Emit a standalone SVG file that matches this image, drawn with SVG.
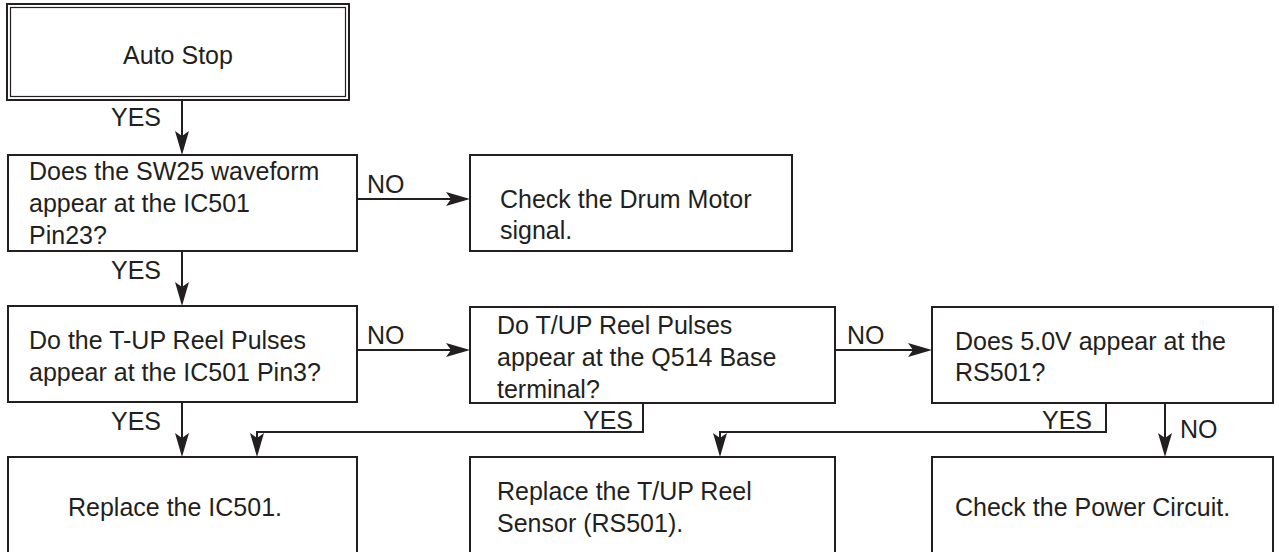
<svg xmlns="http://www.w3.org/2000/svg" width="1279" height="552" viewBox="0 0 1279 552">
<defs>
<style>
.box{fill:#fff;stroke:#231f20;stroke-width:2}
.t{font-family:"Liberation Sans",Arial,sans-serif;font-size:25px;fill:#231f20}
.c{fill:none;stroke:#231f20;stroke-width:2}
.a{marker-end:url(#ah)}
</style>
<marker id="ah" markerUnits="userSpaceOnUse" viewBox="-25 -8 27 16" markerWidth="27" markerHeight="16" refX="-8" refY="0" orient="auto">
<path d="M0,0 L-24,-7 L-19,0 L-24,7 Z" fill="#231f20"/>
</marker>
</defs>
<rect width="1279" height="552" fill="#fff"/>

<g id="connectors">
<line class="c a" x1="182" y1="100" x2="182" y2="147"/>
<line class="c a" x1="357" y1="199" x2="462" y2="199"/>
<line class="c a" x1="182" y1="251" x2="182" y2="298"/>
<line class="c a" x1="357" y1="350" x2="462" y2="350"/>
<line class="c a" x1="835" y1="350" x2="924" y2="350"/>
<line class="c a" x1="182" y1="402" x2="182" y2="449"/>
<polyline class="c a" points="643,403 643,432 257,432 257,449"/>
<polyline class="c a" points="1106,403 1106,432 720,432 720,449"/>
<line class="c a" x1="1165" y1="403" x2="1165" y2="449"/>
<text class="t" x="111" y="126">YES</text>
<text class="t" x="111" y="279">YES</text>
<text class="t" x="111" y="430">YES</text>
<text class="t" x="367" y="193">NO</text>
<text class="t" x="367" y="344">NO</text>
<text class="t" x="847" y="344">NO</text>
<text class="t" x="1180" y="438">NO</text>
<text class="t" x="583" y="429">YES</text>
<text class="t" x="1042" y="429">YES</text>
</g>

<g id="auto-stop">
<rect x="7" y="4" width="342" height="96" fill="#fff" stroke="#231f20" stroke-width="2"/>
<rect x="10.5" y="7.5" width="335" height="89" fill="none" stroke="#231f20" stroke-width="1.2"/>
<text class="t" x="178" y="64" text-anchor="middle">Auto Stop</text>
</g>

<g id="q-sw25">
<rect class="box" x="8" y="155" width="349" height="96"/>
<text class="t" x="29" y="180">Does the SW25 waveform</text>
<text class="t" x="29" y="212">appear at the IC501</text>
<text class="t" x="29" y="244">Pin23?</text>
</g>

<g id="drum-motor">
<rect class="box" x="470" y="155" width="322" height="96"/>
<text class="t" x="500" y="208">Check the Drum Motor</text>
<text class="t" x="500" y="239">signal.</text>
</g>

<g id="q-tup-ic501">
<rect class="box" x="8" y="306" width="349" height="96"/>
<text class="t" x="29" y="349">Do the T-UP Reel Pulses</text>
<text class="t" x="29" y="381">appear at the IC501 Pin3?</text>
</g>

<g id="q-tup-q514">
<rect class="box" x="470" y="307" width="365" height="96"/>
<text class="t" x="497" y="334">Do T/UP Reel Pulses</text>
<text class="t" x="497" y="366">appear at the Q514 Base</text>
<text class="t" x="497" y="398">terminal?</text>
</g>

<g id="q-5v">
<rect class="box" x="932" y="307" width="341" height="96"/>
<text class="t" x="955" y="350">Does 5.0V appear at the</text>
<text class="t" x="955" y="381">RS501?</text>
</g>

<g id="replace-ic501">
<rect class="box" x="8" y="457" width="349" height="110"/>
<text class="t" x="68" y="516">Replace the IC501.</text>
</g>

<g id="replace-sensor">
<rect class="box" x="470" y="457" width="365" height="110"/>
<text class="t" x="497" y="500">Replace the T/UP Reel</text>
<text class="t" x="497" y="532">Sensor (RS501).</text>
</g>

<g id="power-circuit">
<rect class="box" x="932" y="457" width="341" height="110"/>
<text class="t" x="955" y="516">Check the Power Circuit.</text>
</g>
</svg>
